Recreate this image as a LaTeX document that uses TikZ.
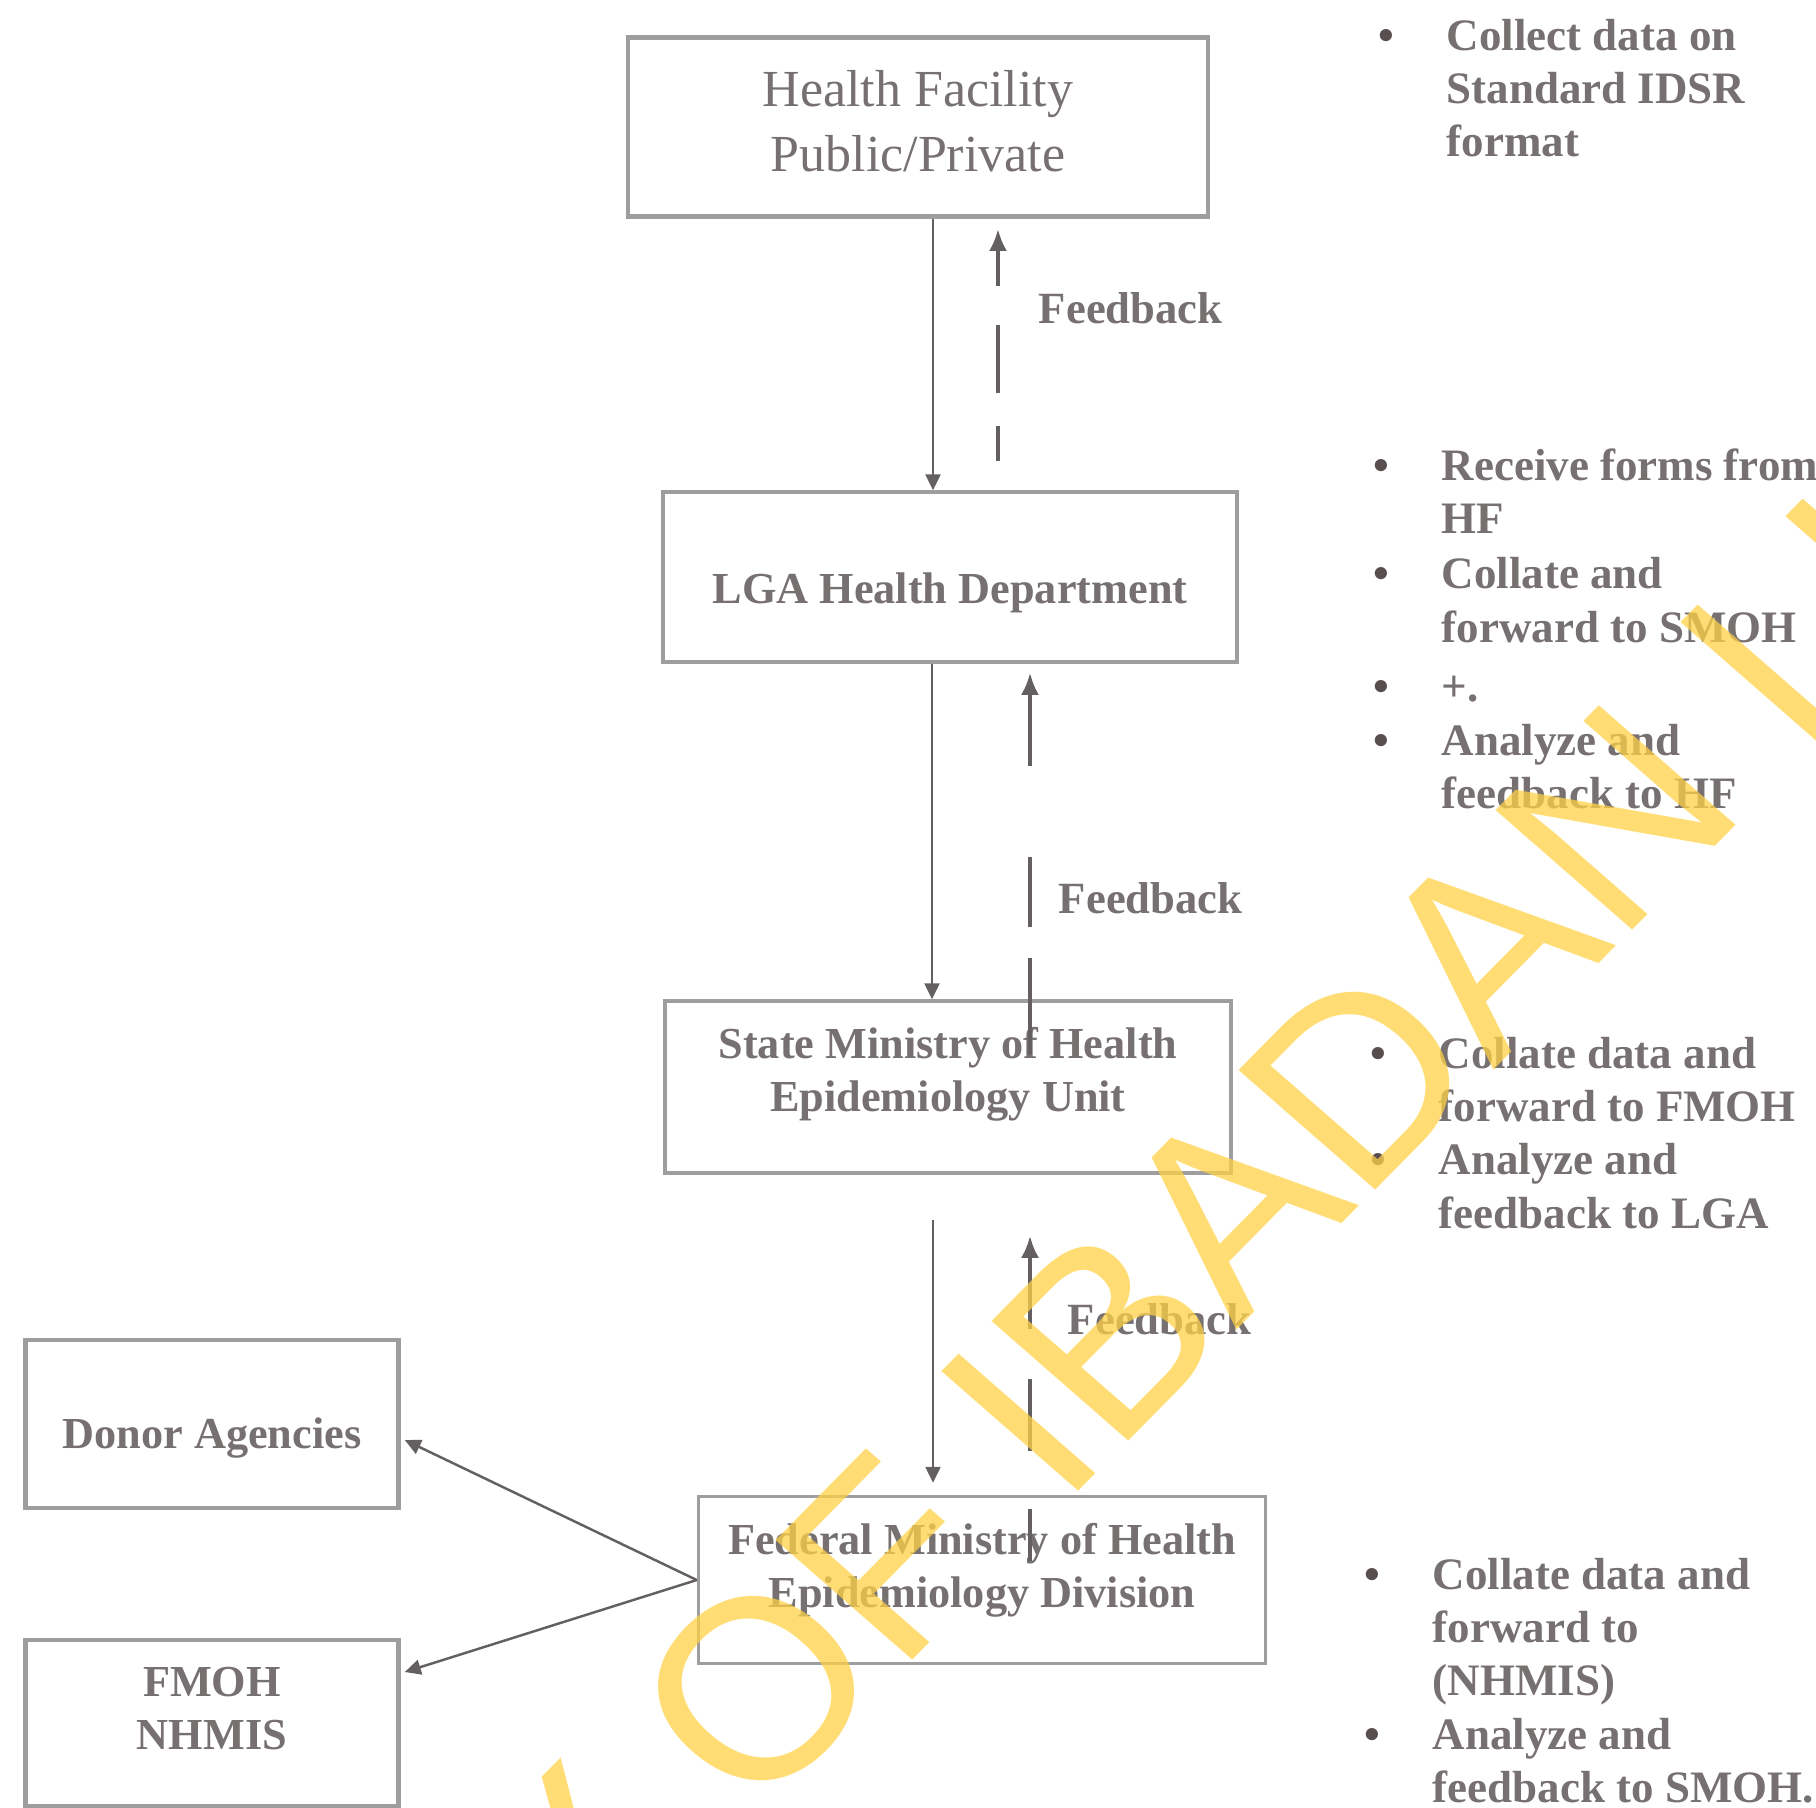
\documentclass[tikz,border=0pt]{standalone}
\usepackage{fontspec}
\setmainfont{Liberation Serif}
\newfontfamily\wmfont{Liberation Sans}
\usepackage{tikz}
\usetikzlibrary{arrows.meta, positioning, calc}
\definecolor{inkgray}{RGB}{118,112,113}
\definecolor{bulgray}{RGB}{88,78,80}
\definecolor{boxgray}{RGB}{158,158,158}
\definecolor{arrowgray}{RGB}{100,95,97}
\definecolor{wmyellow}{RGB}{255,210,70}
\newcommand{\bul}{\textcolor{bulgray}{\textbullet}}
\newcommand{\notelist}[1]{\begin{tabular}[t]{@{}p{6.8mm}@{}l@{}}#1\end{tabular}}
\tikzset{
  box/.style={rectangle, draw=boxgray, line width=1pt},
  boxtext/.style={align=center, text=inkgray, inner sep=0pt,
    font=\fontsize{12.6}{15}\selectfont\bfseries},
  flow/.style={-{Triangle[length=1.6mm, width=1.5mm]}, arrowgray, line width=0.7pt},
  fback/.style={-{Latex[length=2.2mm, width=1.8mm]}, arrowgray, line width=1.1pt},
  fblabel/.style={inner sep=0pt, text=inkgray, font=\fontsize{12.7}{15}\selectfont\bfseries},
  note/.style={anchor=base west, inner sep=0pt, text=inkgray,
    font=\fontsize{12.8}{15.2}\selectfont\bfseries},
  wmark/.style={rotate=45.4, xslant=-0.06, inner sep=0pt, text=wmyellow,
    text opacity=0.75, font=\wmfont\fontsize{75}{75}\selectfont},
}

\begin{document}
\begin{tikzpicture}[x=0.1mm, y=-0.1mm]
  \path[use as bounding box, clip] (0,0) rectangle (1816,1807);

  %% reporting chain
  \node[box, minimum width=58mm, minimum height=17.9mm, line width=1.4pt,
        label={[boxtext, name=hftext, yshift=0.6mm, font=\fontsize{14.8}{18.5}\selectfont]
          center:{Health Facility\\Public/Private}}] (hf) at (918,127) {};
  \node[box, minimum width=57.4mm, minimum height=17mm,
        label={[boxtext, name=lgatext, yshift=-1.6mm]center:{LGA Health Department}}]
    (lga) at (950,577) {};
  \node[box, minimum width=56.6mm, minimum height=17.2mm,
        label={[boxtext, name=smohtext, yshift=1.3mm]
          center:{State Ministry of Health\\Epidemiology Unit}}] (smoh) at (948,1087) {};
  \node[box, minimum width=56.7mm, minimum height=16.7mm,
        label={[boxtext, name=fmohtext, yshift=1mm]
          center:{Federal Ministry of Health\\Epidemiology Division}}] (fmoh) at (982,1580) {};

  %% receivers
  \node[box, minimum width=37.3mm, minimum height=16.8mm, line width=1.3pt,
        label={[boxtext, name=donortext, yshift=-1.4mm]center:{Donor Agencies}}]
    (donor) at (212,1424) {};
  \node[box, minimum width=37.3mm, minimum height=16.6mm, line width=1.3pt,
        label={[boxtext, name=nhmistext, yshift=1.45mm]center:{FMOH\\NHMIS}}]
    (nhmis) at (212,1723) {};

  %% reports going up the chain
  \draw[flow] ($(hf.south)+(15,0)$) -- ($(lga.north)+(-17,0)$);
  \draw[flow] ($(lga.south)+(-18,0)$) -- ($(smoh.north)+(-16,0)$);
  \draw[flow] ($(smoh.south)+(-15,45)$) -- ($(fmoh.north)+(-49,-12)$);
  \draw[flow] (fmoh.west) -- ($(donor.east)+(4,16)$);
  \draw[flow] (fmoh.west) -- ($(nhmis.east)+(4,-51)$);

  %% feedback
  \draw[fback, dash pattern=on 3.5mm off 3.3mm on 6.8mm off 3.9mm on 8mm]
    ($(lga.north)+(48,-29)$) -- ($(hf.south)+(80,10)$)
    node[fblabel, pos=0.66, right=3.9mm] (fb1) {Feedback};
  \draw[fback, dash pattern=on 9.6mm off 3.1mm on 7mm off 9.1mm on 12mm]
    ($(smoh.north)+(82,55)$) -- ($(lga.south)+(80,9)$)
    node[fblabel, pos=0.41, right=2.7mm] (fb2) {Feedback};
  \draw[fback, dash pattern=on 5.2mm off 5.8mm on 7.2mm off 5mm on 12mm]
    ($(fmoh.north)+(48,66)$) -- ($(smoh.south)+(82,61)$)
    node[fblabel, pos=0.744, right=3.6mm] (fb3) {Feedback};

  %% tasks at each level
  \node[note] (hfnote) at (1378,50)
    {\notelist{\bul & Collect data on\\ & Standard IDSR\\ & format}};
  \node[note] (lganote) at (1373,480)
    {\notelist{\bul & Receive forms from\\ & HF\\[0.2mm] \bul & Collate and\\ & forward to SMOH\\[0.6mm]
      \bul & +.\\ \bul & Analyze and\\ & feedback to HF}};
  \node[note] (smohnote) at (1370,1068)
    {\notelist{\bul & Collate data and\\ & forward to FMOH\\ \bul & Analyze and\\ & feedback to LGA}};
  \node[note] (fmohnote) at (1364,1589)
    {\notelist{\bul & Collate data and\\ & forward to\\ & (NHMIS)\\ \bul & Analyze and\\ & feedback to SMOH.}};

  %% watermark
  \node[wmark] (wm) at (1338,1099) {\llap{UNIVERSITY OF\ }IBADAN\rlap{\ LIBRARY}};

\end{tikzpicture}
\end{document}
